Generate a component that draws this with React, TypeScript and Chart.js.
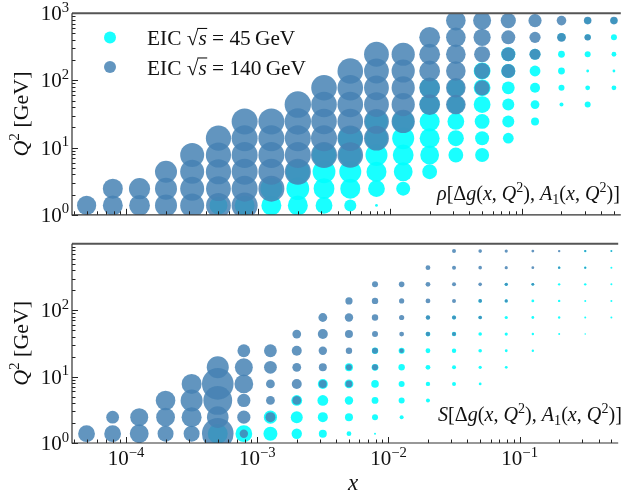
import React, { useEffect, useRef } from "react";
import { Chart, registerables } from "chart.js";
Chart.register(...registerables);

// ---------- data ----------
const xValues = [5.0e-5, 7.9e-5, 1.26e-4, 2.0e-4, 3.16e-4, 5.0e-4, 7.9e-4, 1.26e-3, 2.0e-3, 3.16e-3, 5.0e-3,
  7.9e-3, 0.0126, 0.02, 0.0316, 0.05, 0.079, 0.126, 0.2, 0.316, 0.5];
const q2Values = [1.38, 2.45, 4.37, 7.76, 13.8, 24.5, 43.7, 77.6, 138, 245, 437, 776];

// [x column index, first Q2 row index, values for consecutive rows]
const rhoEic45: [number, number, number[]][] = [
  [5, 0, [0.45]],
  [6, 0, [0.5]],
  [7, 0, [0.5, 0.55]],
  [8, 0, [0.5, 0.57, 0.6]],
  [9, 0, [0.42, 0.52, 0.57, 0.6]],
  [10, 0, [0.3, 0.5, 0.55, 0.57, 0.6]],
  [11, 0, [0.07, 0.42, 0.5, 0.55, 0.57, 0.57]],
  [12, 1, [0.35, 0.47, 0.52, 0.55, 0.55]],
  [13, 2, [0.37, 0.47, 0.5, 0.5, 0.5, 0.5]],
  [14, 3, [0.37, 0.4, 0.42, 0.45, 0.45]],
  [15, 3, [0.35, 0.35, 0.37, 0.42, 0.42, 0.42]],
  [16, 4, [0.27, 0.3, 0.3, 0.32, 0.35, 0.35]],
  [17, 5, [0.2, 0.22, 0.25, 0.27, 0.27]],
  [18, 6, [0.1, 0.15, 0.17, 0.17, 0.2]],
  [19, 6, [0.15, 0.12, 0.07, 0.15, 0.15, 0.17]],
  [20, 7, [0.12, 0.07, 0.12, 0.15, 0.17]],
];
const rhoEic140: [number, number, number[]][] = [
  [0, 0, [0.48]],
  [1, 0, [0.5, 0.5]],
  [2, 0, [0.52, 0.53]],
  [3, 0, [0.55, 0.55, 0.55]],
  [4, 0, [0.6, 0.6, 0.6, 0.6]],
  [5, 0, [0.62, 0.62, 0.63, 0.63, 0.63]],
  [6, 0, [0.65, 0.65, 0.65, 0.65, 0.65, 0.65]],
  [7, 1, [0.65, 0.65, 0.65, 0.65, 0.65]],
  [8, 2, [0.65, 0.65, 0.65, 0.66, 0.66]],
  [9, 3, [0.65, 0.65, 0.64, 0.64, 0.64]],
  [10, 3, [0.64, 0.64, 0.64, 0.64, 0.64, 0.64]],
  [11, 4, [0.62, 0.62, 0.62, 0.62, 0.62, 0.62]],
  [12, 5, [0.58, 0.58, 0.58, 0.58, 0.58]],
  [13, 6, [0.52, 0.52, 0.52, 0.52, 0.52]],
  [14, 6, [0.49, 0.49, 0.49, 0.49, 0.49, 0.49]],
  [15, 7, [0.38, 0.4, 0.4, 0.43, 0.45]],
  [16, 8, [0.35, 0.35, 0.35, 0.38]],
  [17, 9, [0.28, 0.28, 0.33]],
  [18, 10, [0.22, 0.24]],
  [19, 10, [0.16, 0.19]],
  [20, 11, [0.19]],
];
const sEic45: [number, number, number[]][] = [
  [5, 0, [0.5]],
  [6, 0, [0.42]],
  [7, 0, [0.35, 0.33]],
  [8, 0, [0.26, 0.3, 0.27]],
  [9, 0, [0.2, 0.25, 0.27, 0.25]],
  [10, 0, [0.12, 0.2, 0.21, 0.22, 0.2]],
  [11, 0, [0.05, 0.15, 0.17, 0.19, 0.17, 0.16]],
  [12, 1, [0.1, 0.15, 0.15, 0.16, 0.15]],
  [13, 2, [0.1, 0.11, 0.12, 0.12, 0.12, 0.1]],
  [14, 3, [0.1, 0.1, 0.11, 0.11, 0.1]],
  [15, 3, [0.07, 0.08, 0.09, 0.09, 0.09, 0.09]],
  [16, 4, [0.07, 0.07, 0.08, 0.08, 0.08, 0.08]],
  [17, 5, [0.06, 0.06, 0.07, 0.07, 0.07]],
  [18, 6, [0.05, 0.06, 0.06, 0.06, 0.06]],
  [19, 6, [0.04, 0.05, 0.05, 0.06, 0.06, 0.06]],
  [20, 7, [0.05, 0.05, 0.05, 0.05, 0.05]],
];
const sEic140: [number, number, number[]][] = [
  [0, 0, [0.42]],
  [1, 0, [0.42, 0.32]],
  [2, 0, [0.47, 0.45]],
  [3, 0, [0.4, 0.47, 0.49]],
  [4, 0, [0.4, 0.5, 0.55, 0.5]],
  [5, 0, [0.79, 0.54, 0.72, 0.79, 0.55]],
  [6, 0, [0.21, 0.33, 0.33, 0.47, 0.45, 0.32]],
  [7, 1, [0.25, 0.22, 0.22, 0.32, 0.32]],
  [8, 2, [0.22, 0.25, 0.22, 0.25, 0.22]],
  [9, 3, [0.2, 0.2, 0.21, 0.25, 0.22]],
  [10, 3, [0.17, 0.15, 0.16, 0.2, 0.21, 0.18]],
  [11, 4, [0.15, 0.15, 0.15, 0.16, 0.16, 0.15]],
  [12, 5, [0.11, 0.12, 0.13, 0.13, 0.14]],
  [13, 6, [0.11, 0.11, 0.12, 0.12, 0.12]],
  [14, 6, [0.1, 0.1, 0.1, 0.1, 0.1, 0.1]],
  [15, 7, [0.09, 0.09, 0.09, 0.09, 0.09]],
  [16, 8, [0.08, 0.08, 0.08, 0.08]],
  [17, 9, [0.07, 0.07, 0.07]],
  [18, 10, [0.06, 0.06]],
  [19, 10, [0.05, 0.05]],
  [20, 11, [0.04]],
];

const seriesLabels = ["EIC \u221As = 45 GeV", "EIC \u221As = 140 GeV"];
const energies = ["45", "140"];
const yTickValues = [1, 10, 100, 1000];
const xTickValues = [1e-4, 1e-3, 1e-2, 1e-1];

// ---------- styling ----------
const R_SCALE = 20;
const CYAN = "rgba(0,255,255,0.9)";
const BLUE = "rgba(70,130,180,0.85)";
const XMIN = Math.pow(10, -4.412);
const XMAX = Math.pow(10, -0.249);
const FAM = '"Liberation Serif", "DejaVu Serif", serif';

type Seg = { t: string; it?: boolean; sup?: boolean; sub?: boolean; over?: boolean };

function fnt(size: number, it?: boolean) {
  return `${it ? "italic " : ""}${size}px ${FAM}`;
}
function segSize(s: Seg, size: number) {
  return s.sup || s.sub ? size * 0.7 : size;
}
function measureRich(ctx: CanvasRenderingContext2D, segs: Seg[], size: number) {
  let w = 0;
  for (const s of segs) {
    ctx.font = fnt(segSize(s, size), s.it);
    w += ctx.measureText(s.t).width;
  }
  return w;
}
function drawRich(ctx: CanvasRenderingContext2D, segs: Seg[], x: number, y: number, size: number) {
  let cx = x;
  ctx.textAlign = "left";
  ctx.textBaseline = "alphabetic";
  for (const s of segs) {
    const sz = segSize(s, size);
    ctx.font = fnt(sz, s.it);
    let dy = 0;
    if (s.sup) dy = -size * 0.4;
    if (s.sub) dy = size * 0.18;
    ctx.fillText(s.t, cx, y + dy);
    const w = ctx.measureText(s.t).width;
    if (s.over) ctx.fillRect(cx - 1, y - size * 0.8, w + 1.5, Math.max(1, size * 0.05));
    cx += w;
  }
  return cx - x;
}
function fitSize(ctx: CanvasRenderingContext2D, segs: Seg[], width: number, base: number) {
  const w = measureRich(ctx, segs, base);
  return Math.max(14, Math.min(24, (base * width) / w));
}
function powLabel(v: number): Seg[] {
  const e = Math.round(Math.log10(v));
  return [{ t: "10" }, { t: (e < 0 ? "\u2212" : "") + Math.abs(e), sup: true }];
}
function corrLabel(head: Seg): Seg[] {
  return [
    head, { t: "[\u0394" }, { t: "g", it: true }, { t: "(" }, { t: "x", it: true }, { t: ", " },
    { t: "Q", it: true }, { t: "2", sup: true }, { t: "), " }, { t: "A", it: true }, { t: "1", sub: true },
    { t: "(" }, { t: "x", it: true }, { t: ", " }, { t: "Q", it: true }, { t: "2", sup: true }, { t: ")]" },
  ];
}
const Y_TITLE: Seg[] = [{ t: "Q", it: true }, { t: "2", sup: true }, { t: " [GeV]" }];

function toPoints(cols: [number, number, number[]][]) {
  const pts: { x: number; y: number; r: number }[] = [];
  for (const [c, r0, vals] of cols) {
    vals.forEach((v, i) => pts.push({ x: xValues[c], y: q2Values[r0 + i], r: v * R_SCALE }));
  }
  return pts;
}

const decor = {
  id: "decor",
  afterDraw(chart: any, _a: any, opts: any) {
    const { ctx, chartArea: a } = chart;
    const xs = chart.scales.x;
    const ys = chart.scales.y;
    const top = opts.panel === "top";
    ctx.save();
    ctx.fillStyle = "#111";
    // ticks
    ctx.strokeStyle = "#222";
    ctx.lineWidth = 1;
    for (let e = -5; e <= 0; e++) {
      for (let m = 1; m <= 9; m++) {
        const v = m * Math.pow(10, e);
        if (v < XMIN || v > XMAX) continue;
        const px = Math.round(xs.getPixelForValue(v)) + 0.5;
        const len = m === 1 ? 6 : 3.5;
        ctx.beginPath();
        ctx.moveTo(px, a.bottom);
        ctx.lineTo(px, a.bottom - len);
        ctx.stroke();
      }
    }
    for (let e = 0; e <= 2; e++) {
      for (let m = 1; m <= 9; m++) {
        const v = m * Math.pow(10, e);
        const py = Math.round(ys.getPixelForValue(v)) + 0.5;
        const len = m === 1 ? 6 : 3.5;
        ctx.beginPath();
        ctx.moveTo(a.left, py);
        ctx.lineTo(a.left + len, py);
        ctx.stroke();
      }
    }
    // spines
    ctx.strokeStyle = "#555";
    ctx.lineWidth = 2;
    ctx.beginPath();
    ctx.moveTo(a.left, a.top);
    ctx.lineTo(a.right, a.top);
    ctx.stroke();
    ctx.strokeStyle = "#333";
    ctx.lineWidth = 1.2;
    ctx.beginPath();
    ctx.moveTo(a.left, a.top);
    ctx.lineTo(a.left, a.bottom);
    ctx.lineTo(a.right, a.bottom);
    ctx.stroke();

    // y tick labels
    for (const v of yTickValues) {
      if (!top && v === 1000) continue;
      const py = ys.getPixelForValue(v);
      const segs = powLabel(v);
      const w = measureRich(ctx, segs, 21);
      drawRich(ctx, segs, 69 - w, py + 7, 21);
    }
    // y title
    ctx.save();
    const cy = (a.top + a.bottom) / 2;
    ctx.translate(28, cy);
    ctx.rotate(-Math.PI / 2);
    const ysz = fitSize(ctx, Y_TITLE, 85, 21);
    const yw = measureRich(ctx, Y_TITLE, ysz);
    drawRich(ctx, Y_TITLE, -yw / 2, 0, ysz);
    ctx.restore();

    if (top) {
      // legend
      const colors = [CYAN, BLUE];
      const l2: Seg[] = [{ t: "EIC " }, { t: "\u221A" }, { t: "s", it: true, over: true }, { t: " = 140\u2009GeV" }];
      const lsz = fitSize(ctx, l2, 159, 19);
      energies.forEach((en, i) => {
        const yb = 45 + i * 29.5;
        ctx.fillStyle = colors[i];
        ctx.beginPath();
        ctx.arc(110, yb - 7.5, 6, 0, Math.PI * 2);
        ctx.fill();
        ctx.fillStyle = "#111";
        const segs: Seg[] = [{ t: "EIC " }, { t: "\u221A" }, { t: "s", it: true, over: true }, { t: ` = ${en}\u2009GeV` }];
        drawRich(ctx, segs, 147, yb, lsz);
      });
      const segs = corrLabel({ t: "\u03C1", it: true });
      const sz = fitSize(ctx, segs, 183, 19);
      drawRich(ctx, segs, 437, 200, sz);
    } else {
      const segs = corrLabel({ t: "S", it: true });
      const sz = fitSize(ctx, segs, 184, 19);
      drawRich(ctx, segs, 438, 421 - 228, sz);
      // x tick labels
      for (const v of xTickValues) {
        const px = xs.getPixelForValue(v);
        const ls = powLabel(v);
        const w = measureRich(ctx, ls, 21);
        drawRich(ctx, ls, px - w / 2, 465 - 228, 21);
      }
      // x title
      const xt: Seg[] = [{ t: "x", it: true }];
      const w = measureRich(ctx, xt, 23);
      drawRich(ctx, xt, 353 - w / 2, 490 - 228, 23);
    }
    ctx.restore();
  },
};

function makeConfig(panel: "top" | "bottom"): any {
  const cyanCols = panel === "top" ? rhoEic45 : sEic45;
  const blueCols = panel === "top" ? rhoEic140 : sEic140;
  const pad = panel === "top" ? { left: 72, right: 0, top: 11, bottom: 6 } : { left: 72, right: 0, top: 4, bottom: 52 };
  return {
    type: "bubble",
    data: {
      datasets: [
        { label: seriesLabels[0], data: toPoints(cyanCols), backgroundColor: CYAN, borderWidth: 0, clip: 0, order: 2 },
        { label: seriesLabels[1], data: toPoints(blueCols), backgroundColor: BLUE, borderWidth: 0, clip: 0, order: 1 },
      ],
    },
    options: {
      animation: false,
      responsive: false,
      maintainAspectRatio: false,
      devicePixelRatio: 1,
      events: [],
      layout: { padding: pad },
      scales: {
        x: { type: "logarithmic", min: XMIN, max: XMAX, display: false },
        y: { type: "logarithmic", min: 1, max: 1000, display: false },
      },
      plugins: { legend: { display: false }, tooltip: { enabled: false }, decor: { panel } },
    },
    plugins: [decor],
  };
}

export default function App() {
  const topRef = useRef<HTMLCanvasElement>(null);
  const botRef = useRef<HTMLCanvasElement>(null);
  useEffect(() => {
    const c1 = new Chart(topRef.current as HTMLCanvasElement, makeConfig("top"));
    const c2 = new Chart(botRef.current as HTMLCanvasElement, makeConfig("bottom"));
    return () => {
      c1.destroy();
      c2.destroy();
    };
  }, []);
  return (
    <div style={{ position: "fixed", left: 0, top: 0, width: 634, height: 495, background: "#fff" }}>
      <canvas ref={topRef} width={634} height={228} style={{ position: "absolute", left: 0, top: 0, width: 634, height: 228 }} />
      <canvas ref={botRef} width={634} height={267} style={{ position: "absolute", left: 0, top: 228, width: 634, height: 267 }} />
    </div>
  );
}
